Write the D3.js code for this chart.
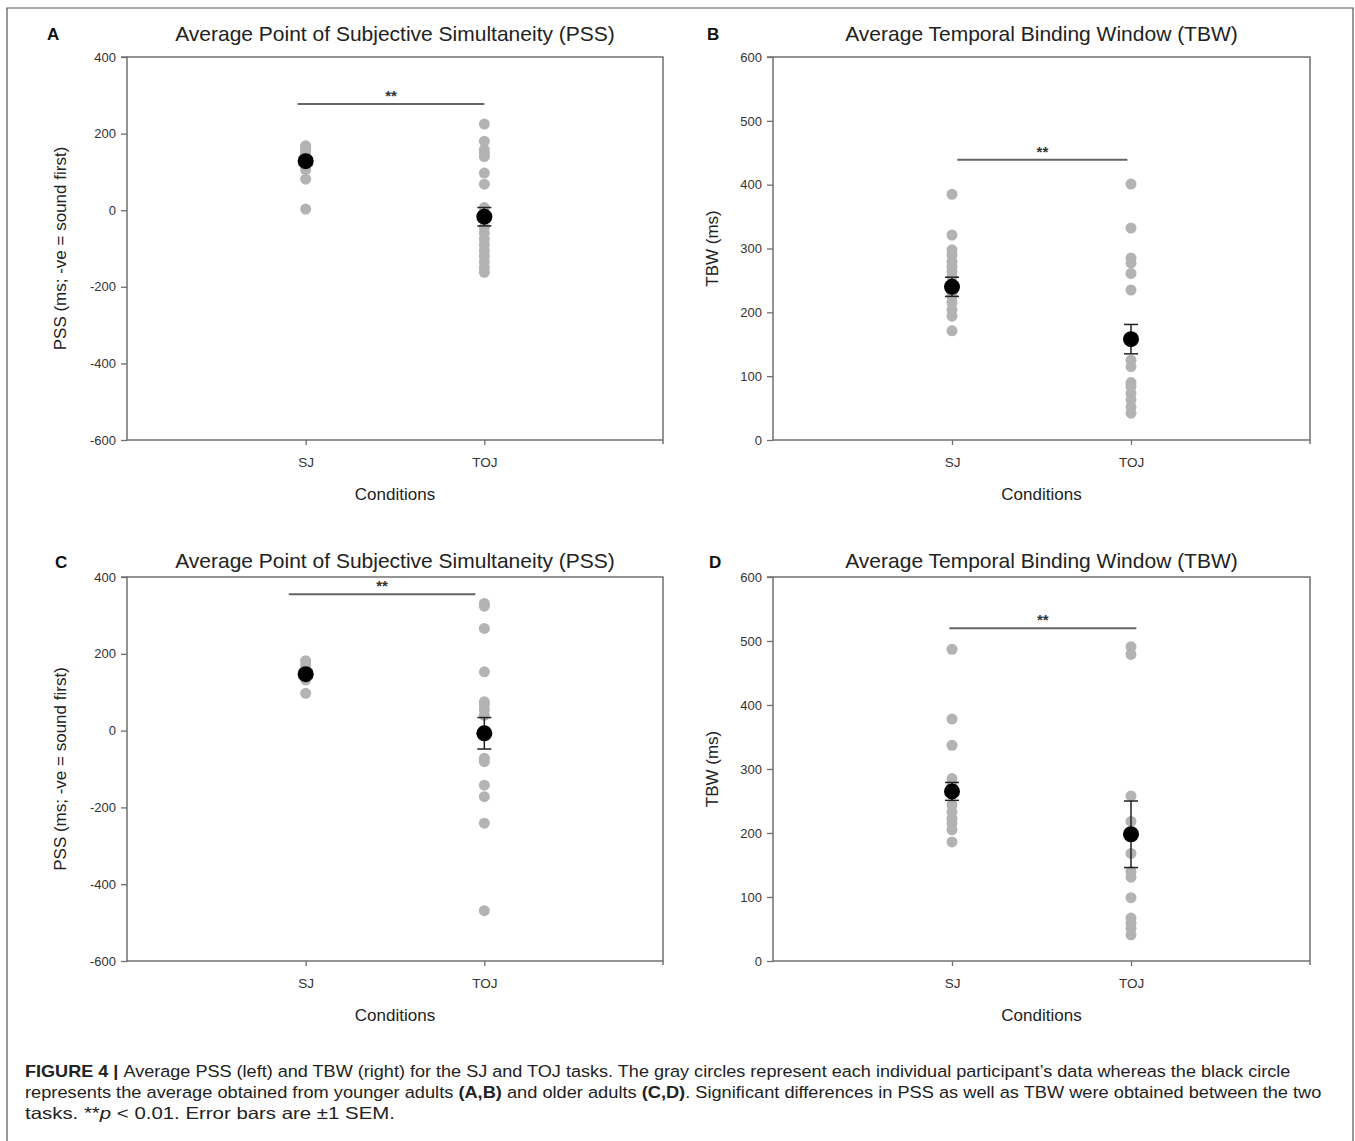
<!DOCTYPE html>
<html><head><meta charset="utf-8">
<script src="https://cdn.jsdelivr.net/npm/d3@7"></script>
<style>
body{margin:0;background:#fff}
svg text{font-family:"Liberation Sans", Arial, Helvetica, sans-serif}
</style>
</head><body>
<svg id="chart" width="1355" height="1141"></svg>
<script>
// ---------- DATA ----------
const categories = ["SJ", "TOJ"];
const pssTicks = [400, 200, 0, -200, -400, -600];
const tbwTicks = [600, 500, 400, 300, 200, 100, 0];

const titlePSS = "Average Point of Subjective Simultaneity (PSS)";
const titleTBW = "Average Temporal Binding Window (TBW)";
const yLabelPSS = "PSS (ms; -ve = sound first)";
const yLabelTBW = "TBW (ms)";
const xLabel = "Conditions";

// Panel A: younger adults, PSS
const youngPssSJ  = [168, 165, 160, 155, 150, 145, 140, 135, 130, 125, 120, 115, 110, 105, 81, 3];
const youngPssTOJ = [225, 180, 158, 148, 140, 97, 68, 7, -25, -45, -60, -75, -90, -105, -120, -135, -150, -162];
const youngPssMean = [128, -17];
const youngPssSEM  = [10, 24];
const youngPssSig  = {y: 277, from: 0.955, to: 2.0};

// Panel B: younger adults, TBW
const youngTbwSJ  = [385, 321, 298, 290, 280, 272, 264, 255, 245, 232, 225, 215, 204, 194, 171];
const youngTbwTOJ = [401, 332, 285, 277, 261, 235, 125, 115, 90, 84, 73, 63, 52, 42];
const youngTbwMean = [240, 158];
const youngTbwSEM  = [15, 23];
const youngTbwSig  = {y: 439, from: 1.03, to: 1.98};

// Panel C: older adults, PSS
const oldPssSJ  = [182, 171, 160, 150, 140, 132, 97];
const oldPssTOJ = [331, 324, 266, 153, 75, 67, 54, 40, -72, -81, -142, -172, -241, -469];
const oldPssMean = [147, -7];
const oldPssSEM  = [10, 41];
const oldPssSig  = {y: 355, from: 0.905, to: 1.95};

// Panel D: older adults, TBW
const oldTbwSJ  = [487, 378, 337, 285, 275, 260, 244, 233, 223, 215, 205, 186];
const oldTbwTOJ = [491, 479, 258, 218, 168, 140, 131, 99, 67, 59, 51, 41];
const oldTbwMean = [265, 198];
const oldTbwSEM  = [14, 52];
const oldTbwSig  = {y: 520, from: 0.985, to: 2.03};

// ---------- LAYOUT ----------
const svg = d3.select("#chart");

const panels = [
  {letter:"A", lx:47, ly:40, title:titlePSS, ylab:yLabelPSS, ylabOff:61, ticks:pssTicks, domain:[-600,400],
   left:127, right:663, top:57, bottom:440, titleY:41,
   sj:youngPssSJ, toj:youngPssTOJ, mean:youngPssMean, sem:youngPssSEM, sig:youngPssSig},
  {letter:"B", lx:707, ly:40, title:titleTBW, ylab:yLabelTBW, ylabOff:55, ticks:tbwTicks, domain:[0,600],
   left:773, right:1310, top:57, bottom:440, titleY:41,
   sj:youngTbwSJ, toj:youngTbwTOJ, mean:youngTbwMean, sem:youngTbwSEM, sig:youngTbwSig},
  {letter:"C", lx:55, ly:568, title:titlePSS, ylab:yLabelPSS, ylabOff:61, ticks:pssTicks, domain:[-600,400],
   left:127, right:663, top:577, bottom:961, titleY:568,
   sj:oldPssSJ, toj:oldPssTOJ, mean:oldPssMean, sem:oldPssSEM, sig:oldPssSig},
  {letter:"D", lx:709, ly:568, title:titleTBW, ylab:yLabelTBW, ylabOff:55, ticks:tbwTicks, domain:[0,600],
   left:773, right:1310, top:577, bottom:961, titleY:568,
   sj:oldTbwSJ, toj:oldTbwTOJ, mean:oldTbwMean, sem:oldTbwSEM, sig:oldTbwSig}
];

// outer frame
svg.append("path")
  .attr("d", "M7,1160 L7,8 L1353,8 L1353,1160")
  .attr("fill", "none").attr("stroke", "#555").attr("stroke-width", 1.2);

const axisColor = "#707070";

panels.forEach(p => {
  const g = svg.append("g");
  const x = d3.scaleLinear().domain([0, 3]).range([p.left, p.right]);
  const catX = c => x(categories.indexOf(c) + 1);
  const y = d3.scaleLinear().domain(p.domain).range([p.bottom, p.top]);

  // box (top & right)
  g.append("path")
    .attr("d", `M${p.left},${p.top} L${p.right},${p.top} L${p.right},${p.bottom + 4}`)
    .attr("fill", "none").attr("stroke", axisColor).attr("stroke-width", 1.5);

  // y axis
  const ya = g.append("g").attr("transform", `translate(${p.left},0)`)
    .call(d3.axisLeft(y).tickValues(p.ticks).tickSize(6).tickPadding(5).tickFormat(d => String(d)));
  ya.select(".domain").attr("stroke", axisColor).attr("stroke-width", 1.5)
    .attr("d", `M-6,${p.top}H0V${p.bottom + 1}`);
  ya.selectAll(".tick line").attr("stroke", axisColor).attr("stroke-width", 1.3);
  ya.selectAll(".tick text").attr("fill", "#333").style("font-size", "13px");

  // x axis
  const xa = g.append("g").attr("transform", `translate(0,${p.bottom})`)
    .call(d3.axisBottom(x).tickValues([1, 2]).tickSize(5).tickPadding(12)
      .tickFormat(d => categories[d - 1]));
  xa.select(".domain").attr("stroke", axisColor).attr("stroke-width", 1.5)
    .attr("d", `M${p.left},0H${p.right}`);
  xa.selectAll(".tick line").attr("stroke", axisColor).attr("stroke-width", 1.3);
  xa.selectAll(".tick text").attr("fill", "#333").style("font-size", "13.5px");

  // labels
  g.append("text").attr("x", (p.left + p.right) / 2).attr("y", p.bottom + 60)
    .attr("text-anchor", "middle").attr("fill", "#222").style("font-size", "17px").text(xLabel);
  g.append("text")
    .attr("transform", `translate(${p.left - p.ylabOff},${(p.top + p.bottom) / 2}) rotate(-90)`)
    .attr("text-anchor", "middle").attr("fill", "#222").style("font-size", "17px").text(p.ylab);
  g.append("text").attr("x", (p.left + p.right) / 2).attr("y", p.titleY)
    .attr("text-anchor", "middle").attr("fill", "#222").style("font-size", "21px").text(p.title);
  g.append("text").attr("x", p.lx).attr("y", p.ly)
    .attr("fill", "#111").style("font-size", "17px").style("font-weight", "bold").text(p.letter);

  // significance bar
  g.append("line")
    .attr("x1", x(p.sig.from)).attr("x2", x(p.sig.to))
    .attr("y1", y(p.sig.y)).attr("y2", y(p.sig.y))
    .attr("stroke", "#666").attr("stroke-width", 2);
  g.append("text").attr("x", (x(p.sig.from) + x(p.sig.to)) / 2).attr("y", y(p.sig.y) - 3)
    .attr("text-anchor", "middle").attr("fill", "#333").style("font-size", "15px")
    .style("font-weight", "bold").text("**");

  // individual points
  const pts = [];
  p.sj.forEach(v => pts.push({c: "SJ", v}));
  p.toj.forEach(v => pts.push({c: "TOJ", v}));
  g.selectAll("circle.ind").data(pts).join("circle").attr("class", "ind")
    .attr("cx", d => catX(d.c)).attr("cy", d => y(d.v)).attr("r", 5.5)
    .attr("fill", "#b3b3b3");

  // error bars + mean
  const means = categories.map((c, i) => ({c, m: p.mean[i], s: p.sem[i]}));
  means.forEach(d => {
    const cx = catX(d.c);
    g.append("line").attr("x1", cx).attr("x2", cx)
      .attr("y1", y(d.m - d.s)).attr("y2", y(d.m + d.s))
      .attr("stroke", "#222").attr("stroke-width", 1.5);
    [d.m - d.s, d.m + d.s].forEach(v => {
      g.append("line").attr("x1", cx - 7).attr("x2", cx + 7)
        .attr("y1", y(v)).attr("y2", y(v))
        .attr("stroke", "#222").attr("stroke-width", 1.5);
    });
    g.append("circle").attr("cx", cx).attr("cy", y(d.m)).attr("r", 8).attr("fill", "#000");
  });
});

// ---------- CAPTION ----------
const captionLines = [
  {y: 1077, w: 1266, parts: [
    {t: "FIGURE 4 | ", b: true},
    {t: "Average PSS (left) and TBW (right) for the SJ and TOJ tasks. The gray circles represent each individual participant\u2019s data whereas the black circle"}]},
  {y: 1098, w: 1297, parts: [
    {t: "represents the average obtained from younger adults "},
    {t: "(A,B)", b: true},
    {t: " and older adults "},
    {t: "(C,D)", b: true},
    {t: ". Significant differences in PSS as well as TBW were obtained between the two"}]},
  {y: 1119, w: 370, parts: [
    {t: "tasks. **"},
    {t: "p", i: true},
    {t: " < 0.01. Error bars are \u00b11 SEM."}]}
];
captionLines.forEach(L => {
  const t = svg.append("text").attr("x", 0).attr("y", 0)
    .attr("fill", "#222").style("font-size", "16.5px")
    .style("font-family", "'Liberation Sans Narrow','Liberation Sans',Arial,sans-serif");
  L.parts.forEach(pt => {
    t.append("tspan").text(pt.t)
      .style("font-weight", pt.b ? "bold" : "normal")
      .style("font-style", pt.i ? "italic" : "normal");
  });
  const w = t.node().getComputedTextLength();
  t.attr("transform", `translate(25,${L.y}) scale(${L.w / w},1)`);
});
</script>
</body></html>
